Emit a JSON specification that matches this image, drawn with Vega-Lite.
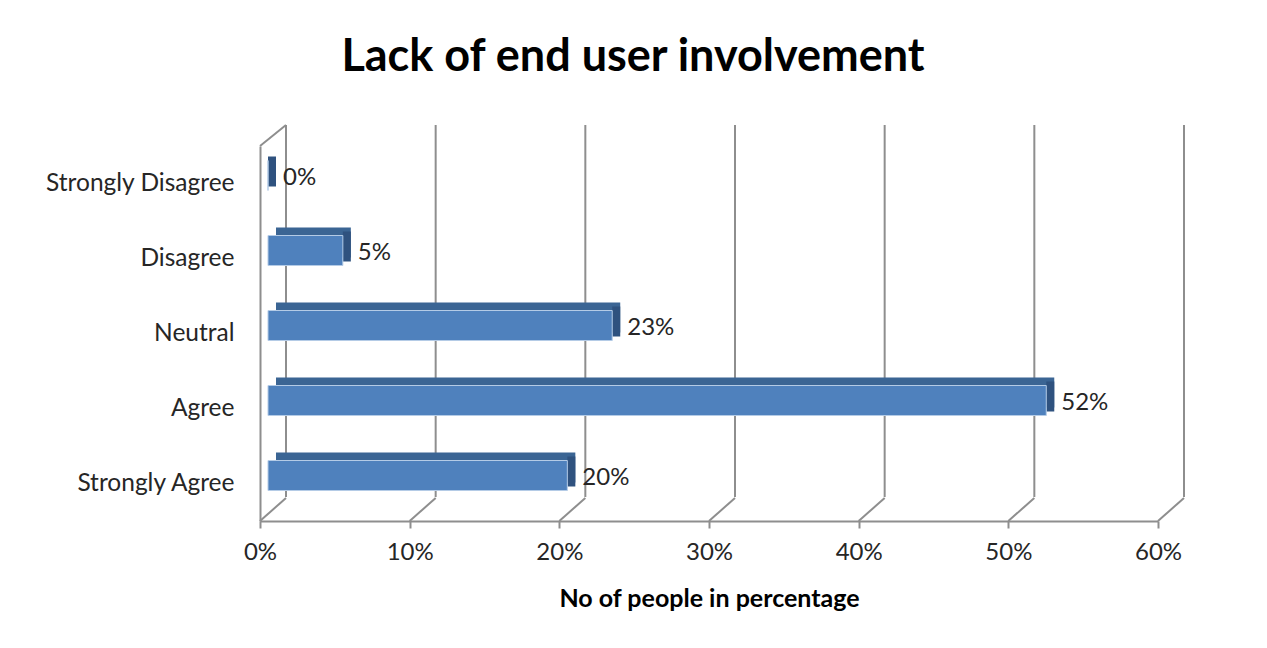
{
  "$schema": "https://vega.github.io/schema/vega-lite/v6.json",
  "width": 898,
  "height": 375,
  "autosize": {"type": "none"},
  "padding": {"left": 260, "top": 146, "right": 109, "bottom": 127},
  "background": "white",
  "config": {"view": {"stroke": null}, "font": "Lato"},
  "title": {
    "text": "Lack of end user involvement",
    "font": "Lato",
    "fontSize": 45,
    "fontWeight": "bold",
    "color": "#000000",
    "anchor": "middle",
    "dx": -76,
    "offset": 8,
    "baseline": "alphabetic"
  },
  "datasets": {
    "responses": [
      {"response": "Strongly Disagree", "share": 0},
      {"response": "Disagree", "share": 0.05},
      {"response": "Neutral", "share": 0.23},
      {"response": "Agree", "share": 0.52},
      {"response": "Strongly Agree", "share": 0.2}
    ],
    "ticks": [
      {"t": 0}, {"t": 0.1}, {"t": 0.2}, {"t": 0.3}, {"t": 0.4}, {"t": 0.5}, {"t": 0.6}
    ]
  },
  "resolve": {"scale": {"y": "independent"}},
  "layer": [
    {
      "data": {"name": "ticks"},
      "layer": [
        {
          "mark": {"type": "rule", "color": "#8e8e8e", "strokeWidth": 2, "xOffset": 26, "yOffset": -24, "y2Offset": -21},
          "encoding": {
            "x": {
              "field": "t",
              "type": "quantitative",
              "scale": {"domain": [0, 0.6]},
              "axis": {
                "title": "No of people in percentage",
                "format": ".0%",
                "values": [0, 0.1, 0.2, 0.3, 0.4, 0.5, 0.6],
                "grid": false,
                "labelFlush": false,
                "domainColor": "#8e8e8e",
                "domainWidth": 2,
                "tickColor": "#8e8e8e",
                "tickWidth": 2,
                "tickSize": 7,
                "labelFont": "Lato",
                "labelFontSize": 24,
                "labelColor": "#262626",
                "labelPadding": 12,
                "titleFont": "Lato",
                "titleFontSize": 25,
                "titleFontWeight": "bold",
                "titleColor": "#000000",
                "titlePadding": 22
              }
            },
            "y": {"datum": 0, "type": "quantitative", "scale": {"domain": [0, 1]}, "axis": null},
            "y2": {"datum": 1}
          }
        },
        {
          "mark": {"type": "rule", "color": "#8e8e8e", "strokeWidth": 2, "x2Offset": 26, "y2Offset": -23},
          "encoding": {
            "x": {"field": "t", "type": "quantitative"},
            "x2": {"field": "t"},
            "y": {"datum": 0, "type": "quantitative", "scale": {"domain": [0, 1]}, "axis": null},
            "y2": {"datum": 0}
          }
        },
        {
          "transform": [{"filter": "datum.t == 0"}],
          "mark": {"type": "rule", "color": "#8e8e8e", "strokeWidth": 2, "x2Offset": 26, "y2Offset": -21},
          "encoding": {
            "x": {"field": "t", "type": "quantitative"},
            "x2": {"field": "t"},
            "y": {"datum": 1, "type": "quantitative", "scale": {"domain": [0, 1]}, "axis": null},
            "y2": {"datum": 1}
          }
        }
      ]
    },
    {
      "data": {"name": "responses"},
      "encoding": {
        "y": {
          "field": "response",
          "type": "nominal",
          "sort": ["Strongly Disagree", "Disagree", "Neutral", "Agree", "Strongly Agree"],
          "scale": {"paddingInner": 0.6, "paddingOuter": 0.3},
          "axis": {
            "title": null,
            "ticks": false,
            "domainColor": "#8e8e8e",
            "domainWidth": 2,
            "labelFont": "Lato",
            "labelFontSize": 24.5,
            "labelLimit": 400,
            "labelColor": "#262626",
            "labelPadding": 26
          }
        }
      },
      "layer": [
        {
          "mark": {"type": "bar", "color": "#3b6594", "xOffset": 16, "x2Offset": 16, "yOffset": -16, "y2Offset": -16},
          "encoding": {
            "x": {"field": "share", "type": "quantitative", "title": "No of people in percentage"},
            "x2": {"datum": 0}
          }
        },
        {
          "mark": {"type": "bar", "color": "#2f527f", "xOffset": 8, "x2Offset": 16, "yOffset": -12, "y2Offset": -12},
          "encoding": {
            "x": {"field": "share", "type": "quantitative"},
            "x2": {"field": "share"}
          }
        },
        {
          "mark": {"type": "bar", "color": "#4f81bd", "stroke": "#b4cbe6", "strokeWidth": 1, "xOffset": 8, "x2Offset": 8, "yOffset": -8, "y2Offset": -8},
          "encoding": {
            "x": {"field": "share", "type": "quantitative"},
            "x2": {"datum": 0}
          }
        },
        {
          "mark": {"type": "text", "align": "left", "baseline": "middle", "dx": 23, "dy": -6, "font": "Lato", "fontSize": 24, "color": "#262626"},
          "encoding": {
            "x": {"field": "share", "type": "quantitative"},
            "text": {"field": "share", "type": "quantitative", "format": ".0%"}
          }
        }
      ]
    }
  ]
}
